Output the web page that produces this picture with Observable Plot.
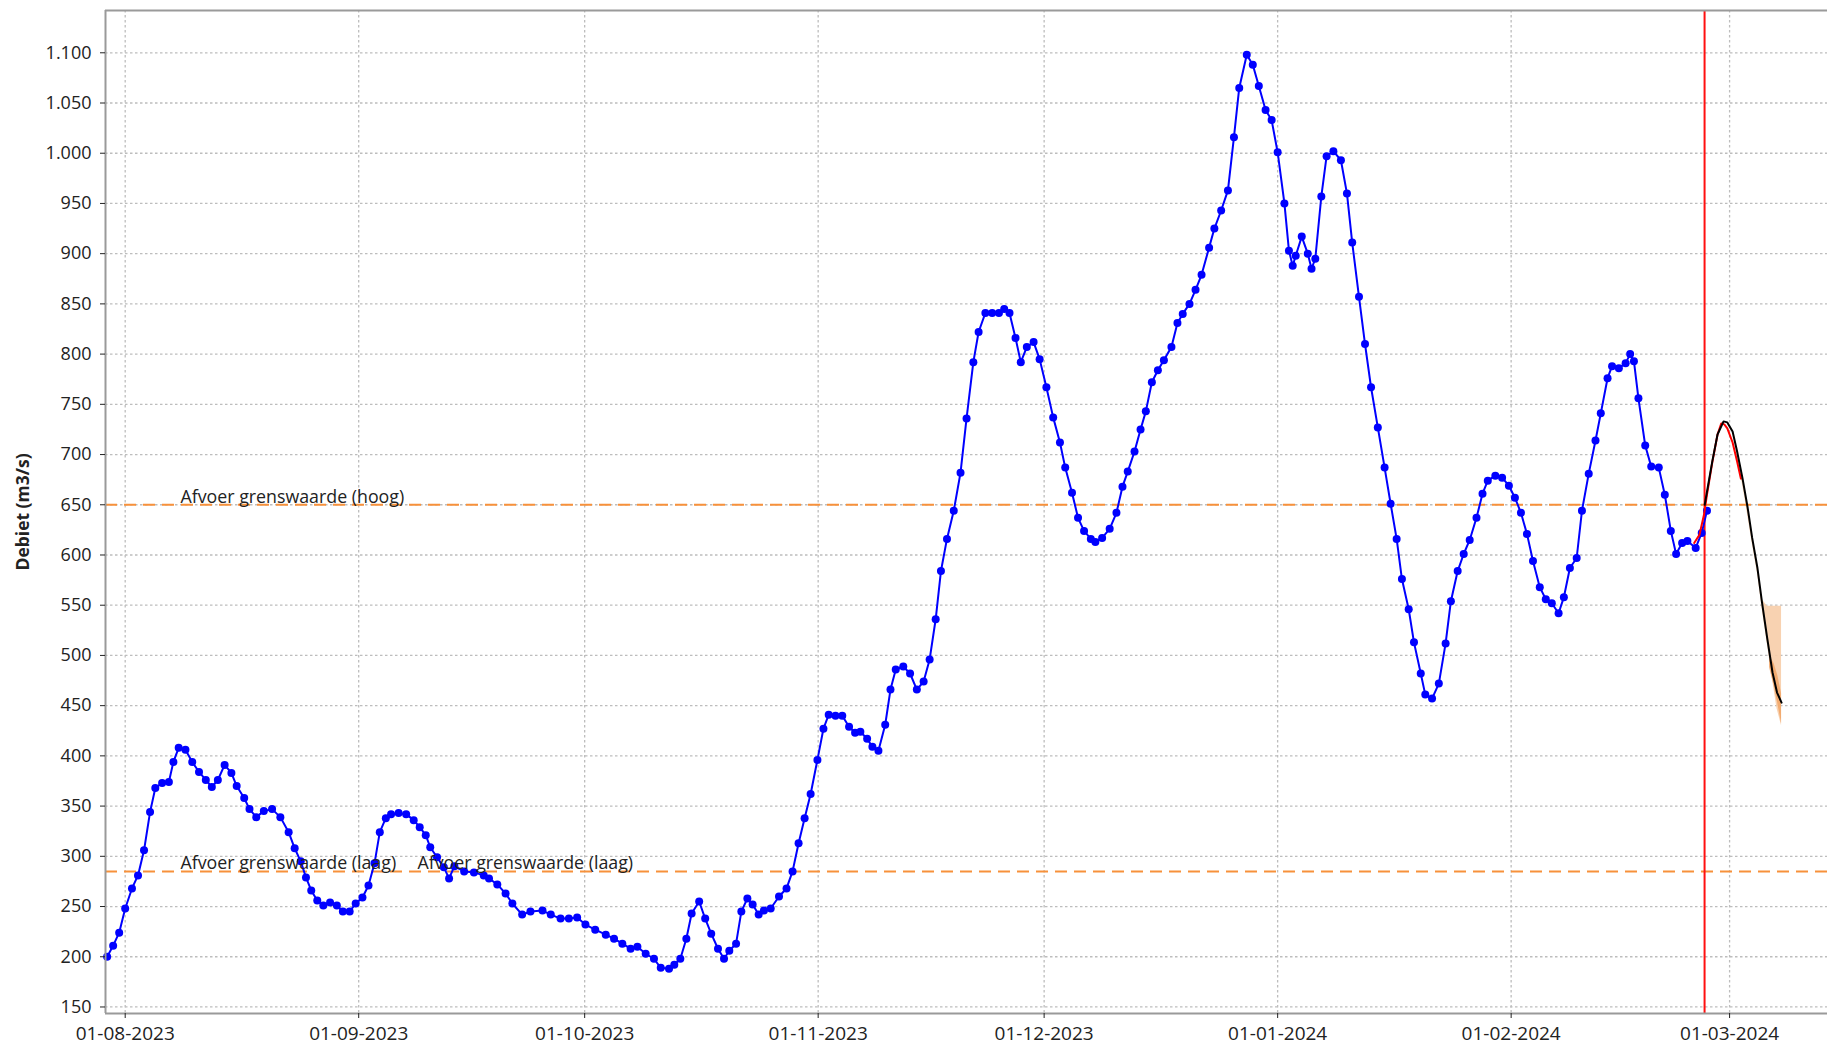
<!DOCTYPE html>
<html>
<head>
<meta charset="utf-8">
<script src="https://cdn.jsdelivr.net/npm/d3@7"></script>
<script src="https://cdn.jsdelivr.net/npm/@observablehq/plot@0.6"></script>
<style>
html, body { margin: 0; padding: 0; background: #fff; overflow: hidden; }
#chart svg { display: block; }
</style>
</head>
<body>
<div id="chart"></div>
<script>
// ---------- DATA (days counted from 01-08-2023) ----------
const startDate = "2023-08-01";

// observed discharge (blue): [day, m3/s]
const observed = [
  [-2.4,200],[-1.6,211],[-0.8,224],[0,248],[0.9,268],[1.7,281],[2.5,306],[3.3,344],[4.0,368],[4.9,373],
  [5.8,374],[6.4,394],[7.1,408],[8.0,406],[8.9,394],[9.8,384],[10.7,376],[11.5,369],[12.3,376],[13.2,391],
  [14.1,383],[14.8,370],[15.8,358],[16.5,347],[17.4,339],[18.4,345],[19.5,347],[20.6,339],[21.7,324],[22.5,308],
  [23.3,295],[24.0,279],[24.7,266],[25.5,256],[26.3,251],[27.2,254],[28.1,251],[28.9,245],[29.8,245],[30.6,253],
  [31.5,259],[32.3,271],[33.1,293],[33.8,324],[34.6,338],[35.3,342],[36.3,343],[37.3,342],[38.3,336],[39.1,329],
  [39.9,321],[40.5,309],[41.4,299],[42.3,289],[43.0,278],[43.7,290],[45.0,285],[46.3,284],[47.6,281],[48.3,278],
  [49.4,272],[50.5,263],[51.4,253],[52.7,242],[53.8,245],[55.4,246],[56.5,242],[57.8,238],[58.9,238],[60.0,239],
  [61.1,232],[62.4,227],[63.8,222],[64.9,218],[66.0,213],[67.1,208],[68.0,210],[69.1,203],[70.2,198],[71.1,189],
  [72.2,188],[72.9,192],[73.7,198],[74.5,218],[75.2,243],[76.2,255],[77.0,238],[77.8,223],[78.7,208],[79.5,198],
  [80.2,206],[81.1,213],[81.8,245],[82.6,258],[83.3,252],[84.1,242],[84.8,246],[85.7,248],[86.8,260],[87.8,268],
  [88.6,285],[89.4,313],[90.2,338],[91.0,362],[91.9,396],[92.7,427],[93.4,441],[94.3,440],[95.2,440],[96.1,429],
  [96.9,423],[97.6,424],[98.5,417],[99.2,409],[100.0,405],[100.9,431],[101.6,466],[102.3,486],[103.3,489],[104.2,482],
  [105.1,466],[106.0,474],[106.8,496],[107.6,536],[108.3,584],[109.1,616],[110.0,644],[110.9,682],[111.7,736],[112.6,792],
  [113.3,822],[114.2,841],[115.1,841],[116.0,841],[116.7,845],[117.4,841],[118.2,816],[118.9,792],[119.7,807],[120.6,812],
  [121.4,795],[122.3,767],[123.2,737],[124.1,712],[124.8,687],[125.7,662],[126.5,637],[127.3,624],[128.2,616],[128.8,613],
  [129.7,617],[130.7,626],[131.6,642],[132.4,668],[133.1,683],[134.0,703],[134.8,725],[135.5,743],[136.3,772],[137.1,784],
  [137.9,794],[138.9,807],[139.7,831],[140.4,840],[141.3,850],[142.1,864],[142.9,879],[143.9,906],[144.6,925],[145.5,943],
  [146.4,963],[147.2,1016],[147.9,1065],[148.9,1098],[149.7,1088],[150.5,1067],[151.4,1043],[152.2,1033],[153.0,1001],[153.9,950],
  [154.5,903],[155.0,888],[155.4,898],[156.2,917],[157.0,900],[157.5,885],[158.0,895],[158.8,957],[159.5,997],[160.4,1002],
  [161.4,993],[162.2,960],[162.9,911],[163.8,857],[164.6,810],[165.4,767],[166.3,727],[167.2,687],[168.0,651],[168.8,616],
  [169.5,576],[170.4,546],[171.1,513],[172.0,482],[172.6,461],[173.5,457],[174.4,472],[175.3,512],[176.0,554],[176.9,584],
  [177.7,601],[178.5,615],[179.4,637],[180.2,661],[180.9,674],[181.9,679],[182.8,677],[183.7,669],[184.5,657],[185.3,642],
  [186.1,621],[186.9,594],[187.8,568],[188.6,556],[189.4,552],[190.3,542],[191.0,558],[191.8,587],[192.7,597],[193.4,644],
  [194.3,681],[195.2,714],[195.9,741],[196.8,776],[197.4,788],[198.3,786],[199.2,791],[199.8,800],[200.3,793],[200.9,756],
  [201.8,709],[202.6,688],[203.6,687],[204.4,660],[205.2,624],[205.9,601],[206.7,612],[207.4,614],[208.5,607],[209.3,622],
  [210.0,644]
];

// model hindcast (red)
const hindcast = [
  [208.3,612],[209.0,620],[209.6,640],[210.0,660],[210.7,692],[211.4,720],[211.9,731],[212.3,730],
  [212.7,726],[213.4,712],[214.0,693],[214.5,676]
];

// forecast (black)
const forecast = [
  [209.7,650],[210.0,663],[210.7,693],[211.4,720],[212.2,733],[212.7,732],[213.4,723],[214.0,703],
  [214.7,677],[215.4,647],[216.0,617],[216.7,587],[217.3,553],[218.0,517],[218.7,483],[219.3,463],[219.9,453]
];

// forecast uncertainty band: [day, low, high]
const bandOuter = [
  [214.0,700,706],[215.0,658,665],[216.0,612,620],[216.7,582,590],[217.3,548,556],
  [218.0,512,549],[218.7,476,549],[219.3,447,549],[219.9,430,549]
];
const bandInner = [
  [218.3,488,500],[218.9,470,492],[219.4,452,480],[219.9,432,462]
];

// thresholds
const thresholdValues = [650, 285];
const labelDays   = [7.34, 7.34, 38.8];
const labelValues = [650, 285, 285];
const labelTexts  = ["Afvoer grenswaarde (hoog)", "Afvoer grenswaarde (laag)", "Afvoer grenswaarde (laag)"];

// current time marker
const nowDay = 209.68;

// axis ticks
const yTicks = d3.range(150, 1101, 50);
const xTickDates = ["2023-08-01","2023-09-01","2023-10-01","2023-11-01","2023-12-01","2024-01-01","2024-02-01","2024-03-01"];
const yLabel = "Debiet (m3/s)";

// ---------- BUILD ----------
const t0 = Date.parse(startDate + "T00:00:00Z");
const toDate = d => new Date(t0 + d * 864e5);
const obs = observed.map(([d, v]) => ({date: toDate(d), value: v}));
const hind = hindcast.map(([d, v]) => ({date: toDate(d), value: v}));
const fc = forecast.map(([d, v]) => ({date: toDate(d), value: v}));
const bOut = bandOuter.map(([d, lo, hi]) => ({date: toDate(d), lo, hi}));
const bIn = bandInner.map(([d, lo, hi]) => ({date: toDate(d), lo, hi}));
const labels = labelDays.map((d, i) => ({date: toDate(d), value: labelValues[i], text: labelTexts[i]}));
const xTicks = xTickDates.map(s => new Date(s + "T00:00:00Z"));

const xDomain = [toDate(-2.615), toDate(226.0)];
const yDomain = [143.5, 1142.1];

const nl = d3.formatLocale({decimal: ",", thousands: ".", grouping: [3], currency: ["€", ""]});
const yFmt = nl.format(",d");

const gridStyle = {stroke: "#bdbdbd", strokeOpacity: 1, strokeWidth: 1.3, strokeDasharray: "2.5,2.5"};

const chart = Plot.plot({
  width: 1827,
  height: 1046,
  marginLeft: 105,
  marginRight: 0,
  marginTop: 10,
  marginBottom: 33,
  style: {background: "#fff", fontFamily: "'Open Sans', 'Noto Sans', sans-serif", fontSize: "18px", color: "#222"},
  x: {type: "utc", domain: xDomain},
  y: {domain: yDomain},
  marks: [
    Plot.gridY(yTicks, gridStyle),
    Plot.gridX(xTicks, gridStyle),
    Plot.areaY(bOut, {x: "date", y1: "lo", y2: "hi", fill: "#f7cda9", fillOpacity: 0.9}),
    Plot.areaY(bIn, {x: "date", y1: "lo", y2: "hi", fill: "#f0a160", fillOpacity: 0.8}),
    Plot.ruleY(thresholdValues, {stroke: "#f7913b", strokeWidth: 2, strokeDasharray: "12,7"}),
    Plot.ruleX([toDate(nowDay)], {stroke: "#ff1010", strokeWidth: 2}),
    Plot.line(obs, {x: "date", y: "value", stroke: "#0000ff", strokeWidth: 2}),
    Plot.dot(obs, {x: "date", y: "value", r: 4, fill: "#0000ff", stroke: "none"}),
    Plot.line(hind, {x: "date", y: "value", stroke: "#ff0000", strokeWidth: 2}),
    Plot.line(fc, {x: "date", y: "value", stroke: "#000", strokeWidth: 2}),
    Plot.text(labels, {x: "date", y: "value", text: "text", textAnchor: "start", lineAnchor: "bottom", dy: -2, fill: "#222", fontSize: 17.8}),
    Plot.ruleX([xDomain[0]], {stroke: "#9a9a9a", strokeWidth: 2}),
    Plot.ruleY([yDomain[1]], {stroke: "#9a9a9a", strokeWidth: 2}),
    Plot.ruleY([yDomain[0]], {stroke: "#9a9a9a", strokeWidth: 2}),
    Plot.axisY(yTicks, {tickFormat: yFmt, tickSize: 5, tickPadding: 9, label: null, fontSize: 18}),
    Plot.axisX(xTicks, {tickFormat: d3.utcFormat("%d-%m-%Y"), tickSize: 5, tickPadding: 8, label: null, fontSize: 19}),
    Plot.text([yLabel], {frameAnchor: "left", dx: -82, rotate: -90, textAnchor: "middle", fontWeight: "bold", fontSize: 17.5, fill: "#222"})
  ]
});
document.getElementById("chart").appendChild(chart);
</script>
</body>
</html>
